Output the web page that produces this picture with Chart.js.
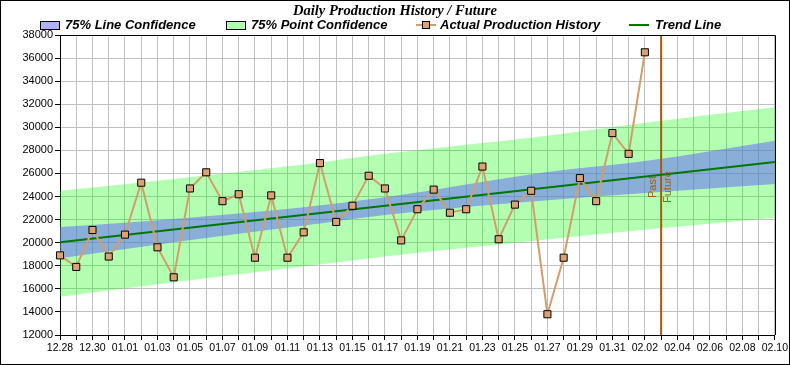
<!DOCTYPE html>
<html>
<head>
<meta charset="utf-8">
<title>Daily Production History / Future</title>
<script src="https://cdn.jsdelivr.net/npm/chart.js@4.4.0/dist/chart.umd.min.js"></script>
<style>
  body { margin: 0; background: #fff; }
  #wrap { width: 790px; height: 365px; }
</style>
</head>
<body>
<div id="wrap"><canvas id="prodChart" width="790" height="365"></canvas></div>
<script>
// days on the x axis (one gridline per day, a label every second day)
const dayLabels = [
    '12.28', '12.29', '12.30', '12.31',
    '01.01', '01.02', '01.03', '01.04', '01.05', '01.06', '01.07', '01.08', '01.09', '01.10',
    '01.11', '01.12', '01.13', '01.14', '01.15', '01.16', '01.17', '01.18', '01.19', '01.20',
    '01.21', '01.22', '01.23', '01.24', '01.25', '01.26', '01.27', '01.28', '01.29', '01.30',
    '01.31', '02.01', '02.02', '02.03', '02.04', '02.05', '02.06', '02.07', '02.08', '02.09',
    '02.10'
];

// actual production, one value per day from 12.28 to 02.02
const productionValues = [
    18900, 17900, 21100, 18800, 20700, 25200, 19600, 17000, 24700, 26100,
    23600, 24200, 18700, 24100, 18700, 20900, 26900, 21800, 23200, 25800,
    24700, 20200, 22900, 24600, 22600, 22900, 26600, 20300, 23300, 24500,
    13800, 18700, 25600, 23600, 29500, 27700, 36500
];

// trend line end points
const trendDays = ['12.28', '02.10'];
const trendValues = [20030, 26990];

// confidence bands read at a few days
const bandDays = ['12.28', '01.04', '01.12', '01.17', '01.27', '02.02', '02.10'];
const pointUpper = [24500, 25530, 26770, 27700, 29270, 30390, 31730];
const lineUpper = [21350, 22060, 23080, 23940, 26130, 27070, 28840];
const lineLower = [18650, 20040, 21490, 22410, 23680, 24310, 25090];
const pointLower = [15320, 16570, 17930, 18800, 20280, 21130, 22170];

// past / future divider
const dividerDay = '02.03';
const yMin = 12000;
const yMax = 38000;
const yStep = 2000;

const tan = '#D49C6C';
const brown = '#A85A06';
const trendGreen = '#007800';

function pairs(days, values) {
    return days.map((d, i) => ({ x: d, y: values[i] }));
}

// title, legend, frames and the Past/Future words
const decorations = {
    id: 'decorations',
    afterDraw(chart) {
        const ctx = chart.ctx;
        const area = chart.chartArea;
        ctx.save();

        // plot frame (top and right)
        ctx.strokeStyle = '#000';
        ctx.lineWidth = 1;
        ctx.beginPath();
        ctx.moveTo(area.left, Math.round(area.top) + 0.5);
        ctx.lineTo(Math.round(area.right) + 0.5, Math.round(area.top) + 0.5);
        ctx.lineTo(Math.round(area.right) + 0.5, area.bottom);
        ctx.stroke();

        // outer border
        ctx.strokeRect(0.5, 0.5, chart.width - 1, chart.height - 1);

        // title
        ctx.fillStyle = '#000';
        ctx.font = 'italic bold 14.5px "Liberation Serif", "Times New Roman", serif';
        ctx.textAlign = 'center';
        ctx.textBaseline = 'middle';
        ctx.fillText('Daily Production History / Future', 395, 11);

        // legend
        ctx.font = 'italic bold 13px "Liberation Sans", Arial, sans-serif';
        ctx.textAlign = 'left';
        const ly = 25.5;

        ctx.fillStyle = '#B0B0FF';
        ctx.fillRect(40, 21, 20, 9);
        ctx.strokeStyle = '#000';
        ctx.strokeRect(40.5, 21.5, 19, 8);
        ctx.fillStyle = '#000';
        ctx.fillText('75% Line Confidence', 65, ly);

        ctx.fillStyle = '#B0FFB0';
        ctx.fillRect(226, 21, 20, 9);
        ctx.strokeRect(226.5, 21.5, 19, 8);
        ctx.fillStyle = '#000';
        ctx.fillText('75% Point Confidence', 251, ly);

        ctx.strokeStyle = tan;
        ctx.lineWidth = 2;
        ctx.beginPath();
        ctx.moveTo(416, 25);
        ctx.lineTo(436, 25);
        ctx.stroke();
        ctx.fillStyle = '#DDA274';
        ctx.fillRect(423, 22, 7, 7);
        ctx.strokeStyle = '#000';
        ctx.lineWidth = 1;
        ctx.strokeRect(422.5, 21.5, 7, 7);
        ctx.fillStyle = '#000';
        ctx.fillText('Actual Production History', 440, ly);

        ctx.strokeStyle = trendGreen;
        ctx.lineWidth = 2;
        ctx.beginPath();
        ctx.moveTo(629, 25);
        ctx.lineTo(649, 25);
        ctx.stroke();
        ctx.fillText('Trend Line', 655, ly);

        // Past / Future words beside the divider
        const dx = chart.scales.x.getPixelForValue(dayLabels.indexOf(dividerDay));
        ctx.fillStyle = brown;
        ctx.font = '11px "Liberation Sans", Arial, sans-serif';
        ctx.textBaseline = 'middle';
        ctx.translate(dx - 8, 198);
        ctx.rotate(-Math.PI / 2);
        ctx.fillText('Past', 0, 0);
        ctx.setTransform(1, 0, 0, 1, 0, 0);
        ctx.translate(dx + 7, 203);
        ctx.rotate(-Math.PI / 2);
        ctx.fillText('Future', 0, 0);

        ctx.restore();
    }
};

const ctx = document.getElementById('prodChart').getContext('2d');
const prodChart = new Chart(ctx, {
    type: 'line',
    data: {
        labels: dayLabels,
        datasets: [
            {
                label: 'Actual Production History',
                data: productionValues,
                borderColor: tan,
                borderWidth: 2,
                pointStyle: 'rect',
                pointRadius: 5,
                pointBackgroundColor: '#DDA274',
                pointBorderColor: '#000',
                pointBorderWidth: 1,
                tension: 0
            },
            {
                label: 'Trend Line',
                data: pairs(trendDays, trendValues),
                borderColor: trendGreen,
                borderWidth: 2,
                pointRadius: 0
            },
            {
                label: 'Divider',
                data: pairs([dividerDay, dividerDay], [yMin, yMax]),
                borderColor: brown,
                borderWidth: 2,
                pointRadius: 0
            },
            {
                label: '75% Line Confidence',
                data: pairs(bandDays, lineUpper),
                borderWidth: 0,
                pointRadius: 0,
                cubicInterpolationMode: 'monotone',
                backgroundColor: 'rgba(96, 96, 255, 0.5)',
                fill: '+1'
            },
            {
                label: 'line lower',
                data: pairs(bandDays, lineLower),
                borderWidth: 0,
                pointRadius: 0,
                cubicInterpolationMode: 'monotone'
            },
            {
                label: '75% Point Confidence',
                data: pairs(bandDays, pointUpper),
                borderWidth: 0,
                pointRadius: 0,
                cubicInterpolationMode: 'monotone',
                backgroundColor: 'rgba(0, 255, 0, 0.3)',
                fill: '+1'
            },
            {
                label: 'point lower',
                data: pairs(bandDays, pointLower),
                borderWidth: 0,
                pointRadius: 0,
                cubicInterpolationMode: 'monotone'
            }
        ]
    },
    options: {
        responsive: false,
        animation: false,
        devicePixelRatio: 1,
        layout: { padding: { top: 35, right: 15, left: 0, bottom: 0 } },
        plugins: {
            legend: { display: false },
            title: { display: false },
            tooltip: { enabled: false }
        },
        scales: {
            x: {
                type: 'category',
                offset: false,
                afterFit: (scale) => { scale.height = 30; },
                grid: { color: '#C0C0C0', tickColor: '#000', tickLength: 5, offset: false },
                border: { color: '#000', width: 1 },
                ticks: {
                    autoSkip: false,
                    maxRotation: 0,
                    padding: 2,
                    color: '#000',
                    font: { family: '"Liberation Sans", Arial, sans-serif', size: 10.5 },
                    callback: function (value, index) {
                        return index % 2 === 0 ? dayLabels[index] : '';
                    }
                }
            },
            y: {
                min: yMin,
                max: yMax,
                afterFit: (scale) => { scale.width = 60; },
                grid: { color: '#C0C0C0', tickColor: '#000', tickLength: 5 },
                border: { color: '#000', width: 1 },
                ticks: {
                    stepSize: yStep,
                    padding: 2,
                    color: '#000',
                    font: { family: '"Liberation Sans", Arial, sans-serif', size: 11 },
                    callback: (v) => String(v)
                }
            }
        }
    },
    plugins: [decorations]
});
</script>
</body>
</html>
